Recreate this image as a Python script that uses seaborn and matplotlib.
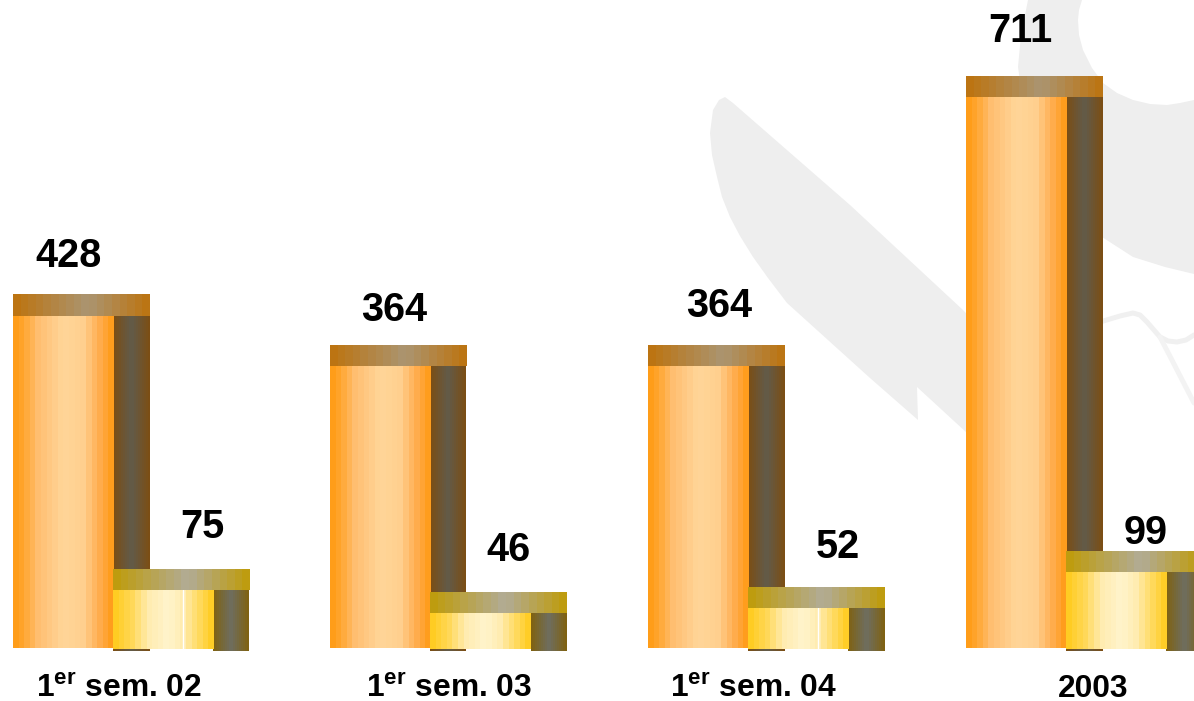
import numpy as np
import pandas as pd
import seaborn as sns
import matplotlib
matplotlib.use("Agg")
import matplotlib.pyplot as plt
from matplotlib.colors import LinearSegmentedColormap
from matplotlib.patches import Polygon
from matplotlib.transforms import ScaledTranslation

# chart values
periods = ["1$^{\\mathbf{er}}$ sem. 02", "1$^{\\mathbf{er}}$ sem. 03", "1$^{\\mathbf{er}}$ sem. 04", "2003"]
first_series = [428, 364, 364, 711]
second_series = [75, 46, 52, 99]

# layout (pixels of the 1194x701 picture)
W, H = 1194, 701
BASE_PX = 648.5
PX_PER_UNIT = 0.776
PX_PER_CAT = 317.67
FIRST_CAT_PX = 112.8
SIDE_W = 36
CAP_H = 21
label_dx = [[6, 40], [14, 28], [21, 40], [5, 30]]  # value labels, from front face centre
label_dy = [[28, 31], [24, 31], [28, 29], [34, 7]]  # gap above the cap
tick_dx = [6, 19, 5, 27]

df = pd.DataFrame({
    "period": periods * 2,
    "value": first_series + second_series,
    "series": ["a"] * 4 + ["b"] * 4,
})

sns.set_style("white")
plt.rcParams["font.family"] = "Liberation Sans"
plt.rcParams["mathtext.fontset"] = "custom"
plt.rcParams["mathtext.bf"] = "Liberation Sans:bold"
plt.rcParams["mathtext.rm"] = "Liberation Sans:bold"

fig = plt.figure(figsize=(W / 100, H / 100), dpi=100)

# grey watermark behind the chart
bg = fig.add_axes([0, 0, 1, 1])
bg.set_xlim(0, W)
bg.set_ylim(H, 0)
bg.axis("off")
WM = "#eeeeee"
blade = [(713, 110), (719, 100), (725, 97), (733, 103), (850, 205), (963, 310), (1010, 360), (1010, 470),
         (967, 433), (917, 387), (918, 420), (870, 378), (787, 303), (768, 278), (753, 257), (740, 236),
         (730, 217), (722, 197), (717, 177), (712, 155), (710, 133)]
bg.add_patch(Polygon(blade, closed=True, fc=WM, ec="none"))
ring = [(1028, 0), (1082, 0), (1079, 10), (1078, 20), (1079, 35), (1083, 50), (1092, 68), (1103, 83), (1117, 93),
        (1133, 100), (1150, 104), (1167, 105), (1180, 103), (1194, 100), (1194, 274), (1165, 267), (1133, 257),
        (1102, 237), (1070, 210), (1040, 160), (1024, 110), (1018, 67), (1021, 35)]
bg.add_patch(Polygon(ring, closed=True, fc=WM, ec="none"))
bg.plot([1100, 1120, 1133, 1140, 1147, 1160, 1168, 1177, 1186, 1194], [322, 316, 313, 315, 322, 337, 341, 342, 340, 335],
        color="#f0f0f0", lw=3.6, solid_capstyle="round", solid_joinstyle="round")
bg.plot([1160, 1175, 1194], [337, 366, 403], color="#f3f3f3", lw=3.6)

ax = fig.add_axes([0, (H - BASE_PX) / H, 1, BASE_PX / H])
ax.patch.set_alpha(0)

sns.barplot(data=df, x="period", y="value", hue="series", order=periods,
            palette=["#ff9a12", "#ffcc1a"], width=0.63, gap=0, dodge=True,
            legend=False, ax=ax, errorbar=None)

dx = 1 / PX_PER_CAT
dy = 1 / PX_PER_UNIT


def band(x0, x1, y0, y1, stops, zorder, steps=18):
    # stepped horizontal gradient like the banded fill of the original
    cmap = LinearSegmentedColormap.from_list("b", stops)
    vals = (np.floor(np.linspace(0, 1, 180, endpoint=False) * steps) + 0.5) / steps
    ax.imshow(vals[None, :], extent=(x0, x1, y0, y1), cmap=cmap, vmin=0, vmax=1,
              aspect="auto", interpolation="nearest", origin="lower", zorder=zorder, clip_on=False)


front_stops = [
    [(0, "#ff9a12"), (0.1, "#ffa52e"), (0.25, "#ffbe70"), (0.5, "#ffd699"), (0.7, "#ffcf8e"), (0.85, "#ffae52"), (1, "#ff9a12")],
    [(0, "#ffcb1a"), (0.2, "#ffd95c"), (0.35, "#ffecb0"), (0.55, "#fff4cc"), (0.7, "#ffecb0"), (0.8, "#ffe07a"), (1, "#ffcb1a")],
]
side_stops = [
    [(0, "#7d4e12"), (0.5, "#625b4a"), (1, "#7d4e12")],
    [(0, "#80620f"), (0.5, "#6e6e60"), (1, "#80620f")],
]
cap_stops = [
    [(0, "#bd730e"), (0.55, "#ab9571"), (1, "#bd730e")],
    [(0, "#bf9c08"), (0.55, "#b2ac96"), (1, "#bf9c08")],
]

for s, container in enumerate(ax.containers):
    for i, bar in enumerate(container):
        x0, x1 = bar.get_x(), bar.get_x() + bar.get_width()
        top = bar.get_height()
        z = 3 + s * 3
        bar.set_visible(False)
        band(x1, x1 + SIDE_W * dx, -2.5 * dy, top, side_stops[s], z)
        band(x0, x1, -(s * 0.8) * dy, top, front_stops[s], z + 1)
        band(x0, x1 + SIDE_W * dx, top, top + CAP_H * dy, cap_stops[s], z + 2)
        if s == 1 and i in (0, 2):
            ax.plot([x0 + 70 * dx] * 2, [0, top], color="white", lw=1, zorder=z + 1.5)
        ax.annotate(str([first_series, second_series][s][i]), xy=((x0 + x1) / 2, top + CAP_H * dy),
                    xytext=(label_dx[i][s] * 0.72, label_dy[i][s] * 0.72), textcoords="offset points",
                    ha="center", va="baseline", fontsize=28.5, fontweight="bold", color="black",
                    annotation_clip=False, zorder=20)

ax.set_xlim(-FIRST_CAT_PX / PX_PER_CAT, (W - FIRST_CAT_PX) / PX_PER_CAT)
ax.set_ylim(0, BASE_PX / PX_PER_UNIT)
ax.set_xlabel("")
ax.set_ylabel("")
ax.set_yticks([])
ax.tick_params(axis="x", length=0, pad=35)
for lab, off in zip(ax.get_xticklabels(), tick_dx):
    lab.set_fontsize(22.9)
    lab.set_fontweight("bold")
    lab.set_color("black")
    lab.set_va("baseline")
    lab.set_transform(lab.get_transform() + ScaledTranslation(off / 100, 0, fig.dpi_scale_trans))
sns.despine(ax=ax, left=True, bottom=True)

fig.savefig("out.png", dpi=100)
